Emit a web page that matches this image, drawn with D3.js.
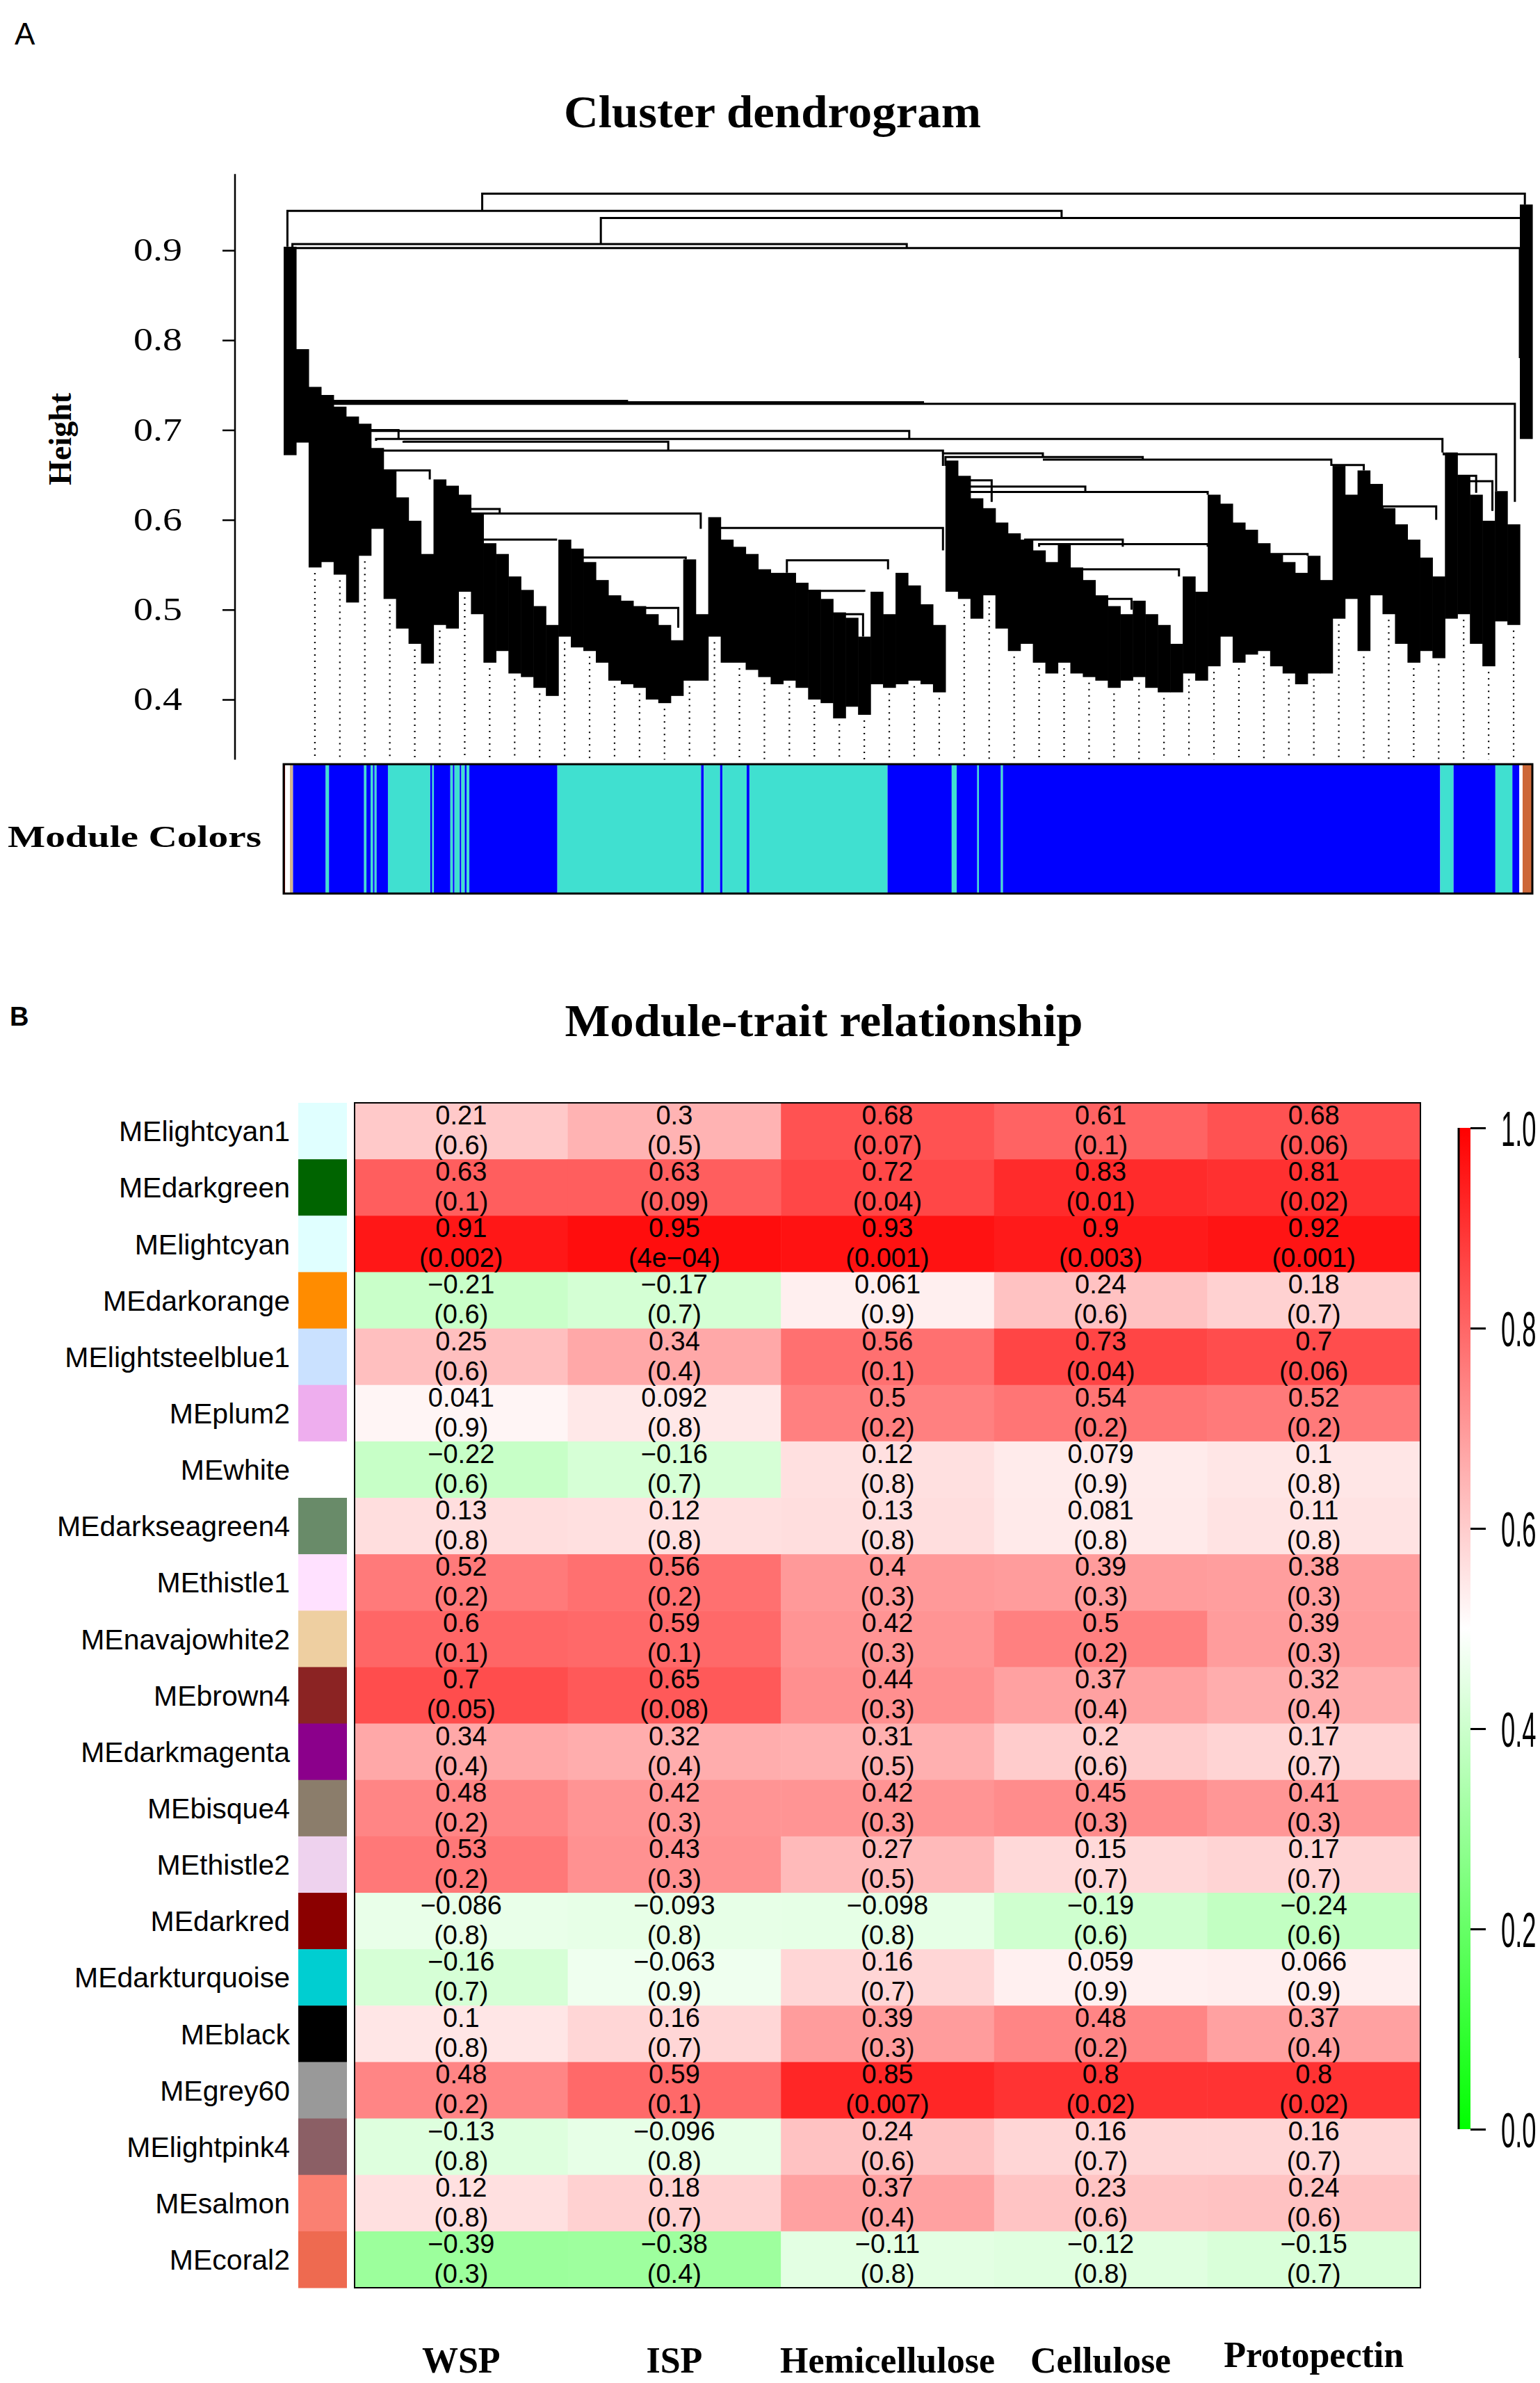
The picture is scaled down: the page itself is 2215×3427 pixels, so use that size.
<!DOCTYPE html>
<html lang="en">
<head>
<meta charset="UTF-8">
<title>Cluster dendrogram / Module-trait relationship</title>
<script src="https://d3js.org/d3.v7.min.js"></script>
<style>
  body { margin: 0; background: #fff; }
  svg { display: block; }
  .serif { font-family: "Liberation Serif", "DejaVu Serif", serif; }
  .sans { font-family: "Liberation Sans", Arial, sans-serif; }
</style>
</head>
<body>
<svg id="fig" width="2215" height="3427"></svg>
<script>
// ---------- panel A: dendrogram (leaf order 0..100, height 0.33..0.97) ----------
// upper edge of the dense leaf mass, one value per leaf-order column
const massTop = [
  0.904, 0.79, 0.748, 0.739, 0.726, 0.715, 0.707, 0.680, 0.655, 0.625,
  0.599, 0.562, 0.645, 0.638, 0.628, 0.607, 0.574, 0.562, 0.537, 0.522,
  0.504, 0.483, 0.578, 0.568, 0.553, 0.533, 0.516, 0.510, 0.504, 0.495,
  0.483, 0.466, 0.556, 0.495, 0.603, 0.578, 0.570, 0.562, 0.545, 0.541,
  0.541, 0.530, 0.522, 0.512, 0.497, 0.491, 0.470, 0.520, 0.495, 0.541,
  0.527, 0.506, 0.483, 0.666, 0.649, 0.624, 0.613, 0.597, 0.585, 0.578,
  0.566, 0.553, 0.572, 0.547, 0.533, 0.516, 0.504, 0.495, 0.510, 0.495,
  0.483, 0.462, 0.537, 0.520, 0.628, 0.618, 0.597, 0.589, 0.574, 0.562,
  0.553, 0.541, 0.560, 0.533, 0.660, 0.628, 0.655, 0.640, 0.613, 0.595,
  0.578, 0.558, 0.537, 0.675, 0.649, 0.628, 0.599, 0.632, 0.595, 0.951
];
// lowest leaf tips in each column
const massTip = [
  0.672, 0.686, 0.547, 0.553, 0.539, 0.508, 0.560, 0.590, 0.512, 0.479,
  0.462, 0.440, 0.483, 0.479, 0.520, 0.495, 0.441, 0.454, 0.429, 0.425,
  0.413, 0.404, 0.470, 0.458, 0.454, 0.441, 0.421, 0.417, 0.413, 0.400,
  0.396, 0.404, 0.421, 0.421, 0.470, 0.441, 0.441, 0.433, 0.425, 0.417,
  0.421, 0.413, 0.400, 0.396, 0.379, 0.392, 0.383, 0.417, 0.413, 0.417,
  0.421, 0.417, 0.408, 0.520, 0.512, 0.490, 0.516, 0.479, 0.454, 0.462,
  0.441, 0.429, 0.441, 0.429, 0.425, 0.421, 0.413, 0.421, 0.425, 0.413,
  0.408, 0.408, 0.429, 0.421, 0.437, 0.470, 0.441, 0.450, 0.454, 0.437,
  0.429, 0.417, 0.429, 0.429, 0.490, 0.512, 0.454, 0.516, 0.495, 0.462,
  0.441, 0.454, 0.446, 0.490, 0.495, 0.462, 0.437, 0.487, 0.483, 0.690
];
// merge links above the mass: [height, left leaf pos, right leaf pos, left child height, right child height]
const links = [
  [0.963, 15.9, 99.4, 0.944, 0.951],
  [0.944, 0.3, 62.3, 0.904, 0.936],
  [0.936, 25.4, 99.1, 0.907, 0.90],
  [0.907, 0.7, 49.9, 0.88, 0.9025],
  [0.9025, 0.9, 99.0, 0.86, 0.78],
  [0.7325, 3.8, 27.5, 0.72, 0.731],
  [0.7309, 3.8, 51.2, 0.72, 0.729],
  [0.7292, 3.8, 98.6, 0.72, 0.62],
  [0.700, 6.5, 9.2, 0.70, 0.69],
  [0.699, 6.5, 50.1, 0.70, 0.690],
  [0.690, 7.4, 92.8, 0.688, 0.675],
  [0.687, 9.6, 30.8, 0.688, 0.677],
  [0.677, 6.8, 52.8, 0.68, 0.674],
  [0.655, 8.0, 11.7, 0.655, 0.645],
  [0.612, 14.9, 17.3, 0.615, 0.607],
  [0.607, 15.0, 33.4, 0.607, 0.59],
  [0.578, 15.4, 21.9, 0.58, 0.578],
  [0.558, 23.8, 32.2, 0.558, 0.556],
  [0.502, 28.4, 31.6, 0.502, 0.48],
  [0.591, 34.5, 52.8, 0.58, 0.566],
  [0.555, 40.3, 48.4, 0.541, 0.545],
  [0.521, 42.0, 46.5, 0.522, 0.52],
  [0.495, 43.6, 46.4, 0.495, 0.47],
  [0.674, 52.8, 60.8, 0.66, 0.670],
  [0.670, 53.0, 68.8, 0.66, 0.667],
  [0.667, 60.8, 83.9, 0.667, 0.66],
  [0.644, 54.3, 56.7, 0.64, 0.62],
  [0.637, 54.4, 64.2, 0.63, 0.63],
  [0.631, 54.6, 74.0, 0.63, 0.628],
  [0.578, 59.3, 67.2, 0.578, 0.57],
  [0.573, 60.5, 74.0, 0.57, 0.57],
  [0.545, 63.7, 71.7, 0.54, 0.537],
  [0.512, 65.9, 67.9, 0.51, 0.50],
  [0.661, 84.0, 86.5, 0.66, 0.655],
  [0.673, 92.9, 97.1, 0.675, 0.632],
  [0.649, 94.0, 95.5, 0.649, 0.63],
  [0.643, 94.2, 96.8, 0.643, 0.61],
  [0.615, 88.0, 92.3, 0.612, 0.60],
  [0.562, 79.0, 82.0, 0.562, 0.56]
];
const heightTicks = [0.4, 0.5, 0.6, 0.7, 0.8, 0.9];
// module colour strip under the dendrogram: [from, to, module colour]
const moduleRuns = [
  [0, 0.12, "darkred"], [0.12, 0.5, "white"], [0.5, 0.75, "tan"],
  [0.75, 3.37, "blue"], [3.37, 3.63, "turquoise"], [3.63, 6.44, "blue"],
  [6.44, 6.63, "turquoise"], [6.63, 6.96, "blue"], [6.96, 7.15, "turquoise"],
  [7.15, 7.28, "blue"], [7.28, 7.44, "turquoise"], [7.44, 8.35, "blue"],
  [8.35, 11.74, "turquoise"], [11.74, 11.9, "blue"], [11.9, 12.03, "turquoise"],
  [12.03, 13.35, "blue"], [13.35, 13.55, "turquoise"], [13.55, 13.68, "blue"],
  [13.68, 14.1, "turquoise"], [14.1, 14.23, "blue"], [14.23, 14.5, "turquoise"],
  [14.5, 14.65, "blue"], [14.65, 14.87, "turquoise"], [14.87, 21.92, "blue"],
  [21.92, 33.43, "turquoise"], [33.43, 33.65, "blue"], [33.65, 34.95, "turquoise"],
  [34.95, 35.14, "blue"], [35.14, 37.08, "turquoise"], [37.08, 37.3, "blue"],
  [37.3, 48.36, "turquoise"], [48.36, 53.5, "blue"], [53.5, 53.9, "turquoise"],
  [53.9, 55.55, "blue"], [55.55, 55.68, "turquoise"], [55.68, 57.44, "blue"],
  [57.44, 57.6, "turquoise"], [57.6, 92.62, "blue"], [92.62, 93.69, "turquoise"],
  [93.69, 97.04, "blue"], [97.04, 98.4, "turquoise"], [98.4, 98.96, "blue"],
  [98.96, 99.22, "white"], [99.22, 100, "sienna3"]
];

// ---------- panel B: module-trait heatmap ----------
const traits = ["WSP", "ISP", "Hemicellulose", "Cellulose", "Protopectin"];
const modules = [
  "MElightcyan1", "MEdarkgreen", "MElightcyan", "MEdarkorange", "MElightsteelblue1",
  "MEplum2", "MEwhite", "MEdarkseagreen4", "MEthistle1", "MEnavajowhite2",
  "MEbrown4", "MEdarkmagenta", "MEbisque4", "MEthistle2", "MEdarkred",
  "MEdarkturquoise", "MEblack", "MEgrey60", "MElightpink4", "MEsalmon", "MEcoral2"
];
const corr = [
  [0.21, 0.3, 0.68, 0.61, 0.68],
  [0.63, 0.63, 0.72, 0.83, 0.81],
  [0.91, 0.95, 0.93, 0.9, 0.92],
  [-0.21, -0.17, 0.061, 0.24, 0.18],
  [0.25, 0.34, 0.56, 0.73, 0.7],
  [0.041, 0.092, 0.5, 0.54, 0.52],
  [-0.22, -0.16, 0.12, 0.079, 0.1],
  [0.13, 0.12, 0.13, 0.081, 0.11],
  [0.52, 0.56, 0.4, 0.39, 0.38],
  [0.6, 0.59, 0.42, 0.5, 0.39],
  [0.7, 0.65, 0.44, 0.37, 0.32],
  [0.34, 0.32, 0.31, 0.2, 0.17],
  [0.48, 0.42, 0.42, 0.45, 0.41],
  [0.53, 0.43, 0.27, 0.15, 0.17],
  [-0.086, -0.093, -0.098, -0.19, -0.24],
  [-0.16, -0.063, 0.16, 0.059, 0.066],
  [0.1, 0.16, 0.39, 0.48, 0.37],
  [0.48, 0.59, 0.85, 0.8, 0.8],
  [-0.13, -0.096, 0.24, 0.16, 0.16],
  [0.12, 0.18, 0.37, 0.23, 0.24],
  [-0.39, -0.38, -0.11, -0.12, -0.15]
];
const pval = [
  [0.6, 0.5, 0.07, 0.1, 0.06],
  [0.1, 0.09, 0.04, 0.01, 0.02],
  [0.002, 0.0004, 0.001, 0.003, 0.001],
  [0.6, 0.7, 0.9, 0.6, 0.7],
  [0.6, 0.4, 0.1, 0.04, 0.06],
  [0.9, 0.8, 0.2, 0.2, 0.2],
  [0.6, 0.7, 0.8, 0.9, 0.8],
  [0.8, 0.8, 0.8, 0.8, 0.8],
  [0.2, 0.2, 0.3, 0.3, 0.3],
  [0.1, 0.1, 0.3, 0.2, 0.3],
  [0.05, 0.08, 0.3, 0.4, 0.4],
  [0.4, 0.4, 0.5, 0.6, 0.7],
  [0.2, 0.3, 0.3, 0.3, 0.3],
  [0.2, 0.3, 0.5, 0.7, 0.7],
  [0.8, 0.8, 0.8, 0.6, 0.6],
  [0.7, 0.9, 0.7, 0.9, 0.9],
  [0.8, 0.7, 0.3, 0.2, 0.4],
  [0.2, 0.1, 0.007, 0.02, 0.02],
  [0.8, 0.8, 0.6, 0.7, 0.7],
  [0.8, 0.7, 0.4, 0.6, 0.6],
  [0.3, 0.4, 0.8, 0.8, 0.7]
];
const legendTicks = [0, 0.2, 0.4, 0.6, 0.8, 1.0];

// R colour names that CSS does not know
const rColors = {
  lightcyan1: "#E0FFFF", lightsteelblue1: "#CAE1FF", plum2: "#EEAEEE",
  darkseagreen4: "#698B69", thistle1: "#FFE1FF", navajowhite2: "#EECFA1",
  brown4: "#8B2323", bisque4: "#8B7D6B", thistle2: "#EED2EE", grey60: "#999999",
  lightpink4: "#8B5F65", coral2: "#EE6A50", sienna3: "#CD6839"
};
const rcol = name => rColors[name] || name;

const svg = d3.select("#fig");
svg.append("rect").attr("width", 2215).attr("height", 3427).attr("fill", "#fff");

// ================= panel A =================
const gA = svg.append("g");
const hY = d3.scaleLinear().domain([0.4, 0.9]).range([1006, 360]);
const uX = d3.scaleLinear().domain([0, 100]).range([408, 2204]);
const baseH = 0.333;

gA.append("text").attr("class", "sans").attr("x", 21).attr("y", 64)
  .attr("font-size", 44).text("A");

gA.append("text").attr("class", "serif").attr("x", 1111).attr("y", 183)
  .attr("text-anchor", "middle").attr("font-size", 66).attr("font-weight", "bold")
  .attr("textLength", 600).attr("lengthAdjust", "spacingAndGlyphs")
  .text("Cluster dendrogram");

// y axis
const yAxis = d3.axisLeft(hY).tickValues(heightTicks).tickSize(18).tickPadding(58)
  .tickFormat(d3.format(".1f"));
const ax = gA.append("g").attr("transform", "translate(338,0)").call(yAxis);
ax.select(".domain").remove();
ax.selectAll(".tick line").attr("stroke", "#000").attr("stroke-width", 2.5);
ax.selectAll(".tick text").attr("class", "serif").attr("font-size", 46)
  .attr("fill", "#000").attr("textLength", 70).attr("lengthAdjust", "spacingAndGlyphs");
ax.append("line").attr("y1", hY(0.985)).attr("y2", hY(baseH))
  .attr("stroke", "#000").attr("stroke-width", 2.5);

gA.append("text").attr("class", "serif")
  .attr("transform", `translate(102,${hY(0.69)}) rotate(-90)`)
  .attr("text-anchor", "middle").attr("font-size", 46).attr("font-weight", "bold")
  .text("Height");

// dotted hang lines below the leaves
gA.append("g").selectAll("line")
  .data(d3.range(2, 100, 2))
  .join("line")
  .attr("x1", d => uX(d + 0.5)).attr("x2", d => uX(d + 0.5))
  .attr("y1", d => hY(massTip[d]) + 8).attr("y2", hY(baseH))
  .attr("stroke", "#000").attr("stroke-width", 2.2).attr("stroke-dasharray", "2,7");

// dense leaf mass
gA.append("g").selectAll("rect")
  .data(massTop.map((t, i) => ({ i, t, b: massTip[i] })))
  .join("rect")
  .attr("x", d => uX(d.i))
  .attr("width", d => uX(d.i + 1) - uX(d.i) + 0.6)
  .attr("y", d => hY(d.t))
  .attr("height", d => hY(d.b) - hY(d.t))
  .attr("fill", "#000");

// merge links
gA.append("g").selectAll("path")
  .data(links)
  .join("path")
  .attr("d", d => `M${uX(d[1])},${hY(d[3])}V${hY(d[0])}H${uX(d[2])}V${hY(d[4])}`)
  .attr("fill", "none").attr("stroke", "#000").attr("stroke-width", 3);

// module colour strip
const stripTop = 1099, stripBot = 1285;
gA.append("g").selectAll("rect")
  .data(moduleRuns)
  .join("rect")
  .attr("x", d => uX(d[0])).attr("width", d => uX(d[1]) - uX(d[0]))
  .attr("y", stripTop).attr("height", stripBot - stripTop)
  .attr("fill", d => rcol(d[2]));
gA.append("rect").attr("x", uX(0)).attr("y", stripTop)
  .attr("width", uX(100) - uX(0)).attr("height", stripBot - stripTop)
  .attr("fill", "none").attr("stroke", "#000").attr("stroke-width", 3);

gA.append("text").attr("class", "serif").attr("x", 11).attr("y", 1218)
  .attr("font-size", 45).attr("font-weight", "bold")
  .attr("textLength", 365).attr("lengthAdjust", "spacingAndGlyphs")
  .text("Module Colors");

// ================= panel B =================
const gB = svg.append("g");
gB.append("text").attr("class", "sans").attr("x", 14).attr("y", 1475)
  .attr("font-size", 38).attr("font-weight", "bold").text("B");
gB.append("text").attr("class", "serif").attr("x", 1185).attr("y", 1490)
  .attr("text-anchor", "middle").attr("font-size", 66).attr("font-weight", "bold")
  .attr("textLength", 745).attr("lengthAdjust", "spacingAndGlyphs")
  .text("Module-trait relationship");

const xB = d3.scaleBand().domain(traits).range([510, 2043]);
const yB = d3.scaleBand().domain(modules).range([1586, 3290]);
const color = d3.scaleLinear().domain([-1, 0, 1]).range(["#00FF00", "#FFFFFF", "#FF0000"]);

const fmtR = v => String(v).replace("-", "\u2212");
const fmtP = p => {
  if (p < 0.001) {
    const [m, e] = p.toExponential(0).split("e");
    return `(${m}e\u2212${String(Math.abs(+e)).padStart(2, "0")})`;
  }
  return `(${p})`;
};

const cells = [];
modules.forEach((m, i) => traits.forEach((t, j) => cells.push({ m, t, r: corr[i][j], p: pval[i][j] })));

gB.append("g").selectAll("rect")
  .data(cells)
  .join("rect")
  .attr("x", d => xB(d.t)).attr("y", d => yB(d.m))
  .attr("width", xB.bandwidth() + 0.5).attr("height", yB.bandwidth() + 0.5)
  .attr("fill", d => color(d.r));

const txt = gB.append("g").attr("class", "sans").attr("font-size", 38)
  .attr("text-anchor", "middle").attr("fill", "#000");
txt.selectAll("text.r").data(cells).join("text").attr("class", "r")
  .attr("x", d => xB(d.t) + xB.bandwidth() / 2)
  .attr("y", d => yB(d.m) + 31)
  .text(d => fmtR(d.r));
txt.selectAll("text.p").data(cells).join("text").attr("class", "p")
  .attr("x", d => xB(d.t) + xB.bandwidth() / 2)
  .attr("y", d => yB(d.m) + 74)
  .text(d => fmtP(d.p));

gB.append("rect").attr("x", 510).attr("y", 1586)
  .attr("width", xB.range()[1] - 510).attr("height", yB.range()[1] - 1586)
  .attr("fill", "none").attr("stroke", "#000").attr("stroke-width", 2);

// module swatches and names
gB.append("g").selectAll("rect")
  .data(modules)
  .join("rect")
  .attr("x", 429).attr("width", 70)
  .attr("y", d => yB(d)).attr("height", yB.bandwidth() + 0.5)
  .attr("fill", d => rcol(d.slice(2)));
gB.append("g").attr("class", "sans").selectAll("text")
  .data(modules)
  .join("text")
  .attr("x", 417).attr("y", d => yB(d) + yB.bandwidth() / 2)
  .attr("dy", "0.36em").attr("text-anchor", "end").attr("font-size", 41)
  .text(d => d);

// trait names
gB.append("g").attr("class", "serif").selectAll("text")
  .data(traits)
  .join("text")
  .attr("x", d => xB(d) + xB.bandwidth() / 2)
  .attr("y", d => d === "Protopectin" ? 3404 : 3412)
  .attr("text-anchor", "middle").attr("font-size", 52).attr("font-weight", "bold")
  .text(d => d);

// colour legend
const lgY = d3.scaleLinear().domain([0, 1]).range([3062, 1622]);
const grad = svg.append("defs").append("linearGradient").attr("id", "lg")
  .attr("x1", 0).attr("y1", 1).attr("x2", 0).attr("y2", 0);
grad.selectAll("stop").data([-1, -0.5, 0, 0.5, 1]).join("stop")
  .attr("offset", d => (d + 1) / 2).attr("stop-color", d => color(d));
gB.append("rect").attr("x", 2099).attr("y", lgY(1)).attr("width", 16)
  .attr("height", lgY(0) - lgY(1)).attr("fill", "url(#lg)");
gB.append("line").attr("x1", 2098).attr("x2", 2098).attr("y1", lgY(1)).attr("y2", lgY(0))
  .attr("stroke", "#000").attr("stroke-width", 3);
const lgAxis = d3.axisRight(lgY).tickValues(legendTicks).tickSize(22)
  .tickFormat(d3.format(".1f"));
const lax = gB.append("g").attr("transform", "translate(2115,0)").call(lgAxis);
lax.select(".domain").remove();
lax.selectAll(".tick line").attr("stroke", "#000").attr("stroke-width", 3);
// tall, narrow legend numbers
lax.selectAll(".tick text").attr("class", "sans").attr("font-size", 70).attr("fill", "#000")
  .attr("x", null).attr("dy", "0.36em")
  .attr("transform", "translate(44,0) scale(0.52,1)");
</script>
</body>
</html>
